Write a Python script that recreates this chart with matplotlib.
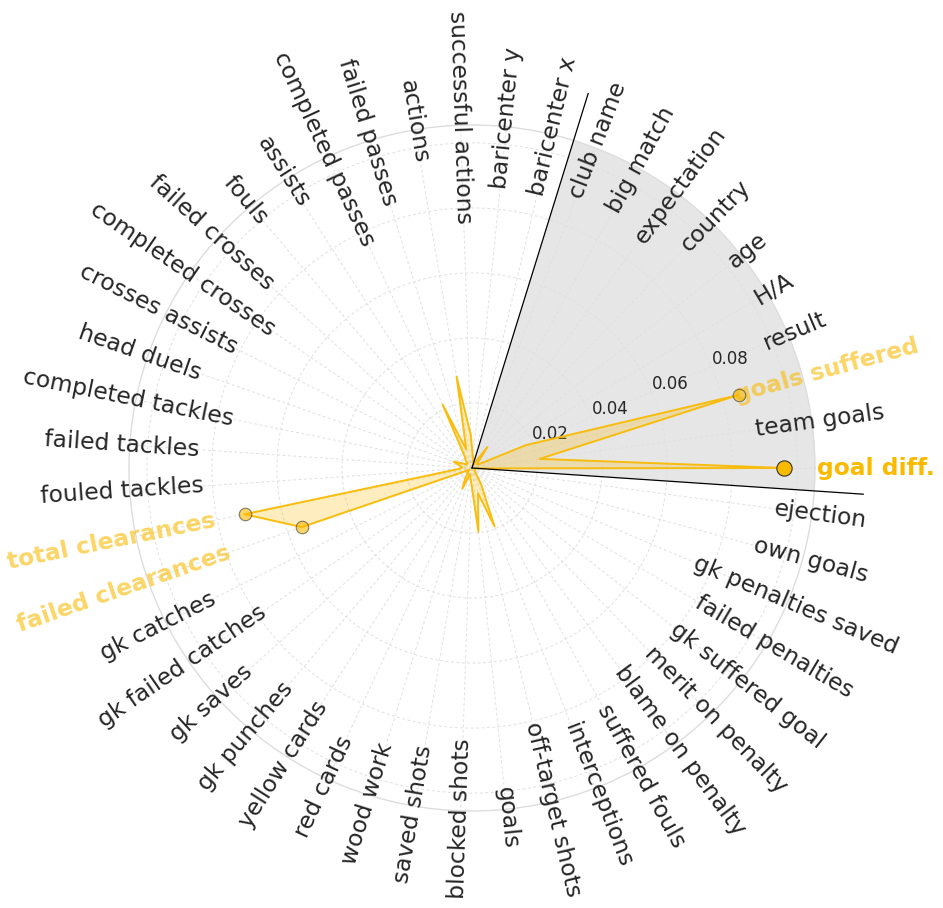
import numpy as np
import matplotlib
matplotlib.use("Agg")
from matplotlib import pyplot as plt

GOLD = '#F9BA00'
TEXT = '#262626'

# categories, counter-clockwise starting at 0 deg
labels = ['goal diff.', 'team goals', 'goals suffered', 'result', 'H/A', 'age',
          'country', 'expectation', 'big match', 'club name', 'baricenter x',
          'baricenter y', 'successful actions', 'actions', 'failed passes',
          'completed passes', 'assists', 'fouls', 'failed crosses',
          'completed crosses', 'crosses assists', 'head duels',
          'completed tackles', 'failed tackles', 'fouled tackles',
          'total clearances', 'failed clearances', 'gk catches',
          'gk failed catches', 'gk saves', 'gk punches', 'yellow cards',
          'red cards', 'wood work', 'saved shots', 'blocked shots', 'goals',
          'off-target shots', 'interceptions', 'suffered fouls',
          'blame on penalty', 'merit on penalty', 'gk suffered goal',
          'failed penalties', 'gk penalties saved', 'own goals', 'ejection']

values = [0.096, 0.021, 0.085, 0.018, 0.002, 0.002,
          0.003, 0.008, 0.002, 0.001, 0.002,
          0.003, 0.010, 0.0285, 0.006,
          0.0215, 0.004, 0.003, 0.002,
          0.002, 0.003, 0.006,
          0.004, 0.003, 0.004,
          0.0714, 0.0554, 0.002,
          0.001, 0.002, 0.002, 0.004,
          0.007, 0.002, 0.003, 0.005, 0.0197,
          0.008, 0.0193, 0.006,
          0.002, 0.001, 0.001,
          0.001, 0.001, 0.001, 0.001]

# highlighted features: name -> (alpha, marker size)
highlight = {'goal diff.': (1.0, 11), 'goals suffered': (0.6, 9),
             'total clearances': (0.6, 9), 'failed clearances': (0.6, 9)}

# features belonging to the shaded "context" block
context_block = labels[:10]

rticks = [0.02, 0.04, 0.06, 0.08, 0.10]
rticklabels = ['0.02', '0.04', '0.06', '0.08', '']

n = len(labels)
step = 2 * np.pi / n
angles = np.arange(n) * step
rmax = 0.1055

fig = plt.figure(figsize=(9.43, 9.08), dpi=100)
ax = fig.add_axes([129 / 943, 97 / 908, 686 / 943, 686 / 908], projection='polar')
ax.set_ylim(0, rmax)
ax.set_axisbelow(True)

# grids
ax.set_xticks(angles)
ax.set_xticklabels([])
ax.tick_params(axis='x', length=0)
ax.set_rgrids(rticks, labels=rticklabels, angle=22.5, fontsize=12, color=TEXT)
ax.grid(True, color='#e0e0e0', lw=0.7, dashes=(3, 2.5))
ax.spines['polar'].set_color('#dddddd')
ax.spines['polar'].set_linewidth(1)

# shaded wedge for the context features
k = len(context_block)
ax.bar(angles[k - 1] / 2, rmax, width=k * step, bottom=0, color='#e6e6e6',
       edgecolor='none', zorder=0.2, align='center')
for a in (-step / 2, (k - 0.5) * step):
    ax.plot([a, a], [0, 0.1206], color='black', lw=0.9, clip_on=False, zorder=3)

# the profile
th = np.append(angles, angles[0])
vv = np.append(values, values[0])
ax.fill(th, vv, color=GOLD, alpha=0.25, zorder=2)
ax.plot(th, vv, color=GOLD, lw=1.4, alpha=0.9, zorder=2.5)

for name, (al, ms) in highlight.items():
    i = labels.index(name)
    ax.plot(angles[i], values[i], 'o', ms=ms, color=GOLD, alpha=al,
            mec='#333333', mew=0.8, zorder=4)

# labels
for i, name in enumerate(labels):
    deg = np.degrees(angles[i])
    rot = deg - 180 if 90 < deg < 270 else (deg - 360 if deg >= 270 else deg)
    if name in highlight:
        al = highlight[name][0]
        r = 0.1243 if al == 1.0 else 0.1132
        ax.text(angles[i], r, name, rotation=rot, rotation_mode='anchor',
                ha='center', va='center', fontsize=16.8, fontweight='bold',
                color=GOLD, alpha=al, clip_on=False)
    else:
        ax.text(angles[i], 0.108, name, rotation=rot, rotation_mode='anchor',
                ha='center', va='center', fontsize=16.8, color=TEXT, clip_on=False)

fig.savefig('out.png', dpi=100)
